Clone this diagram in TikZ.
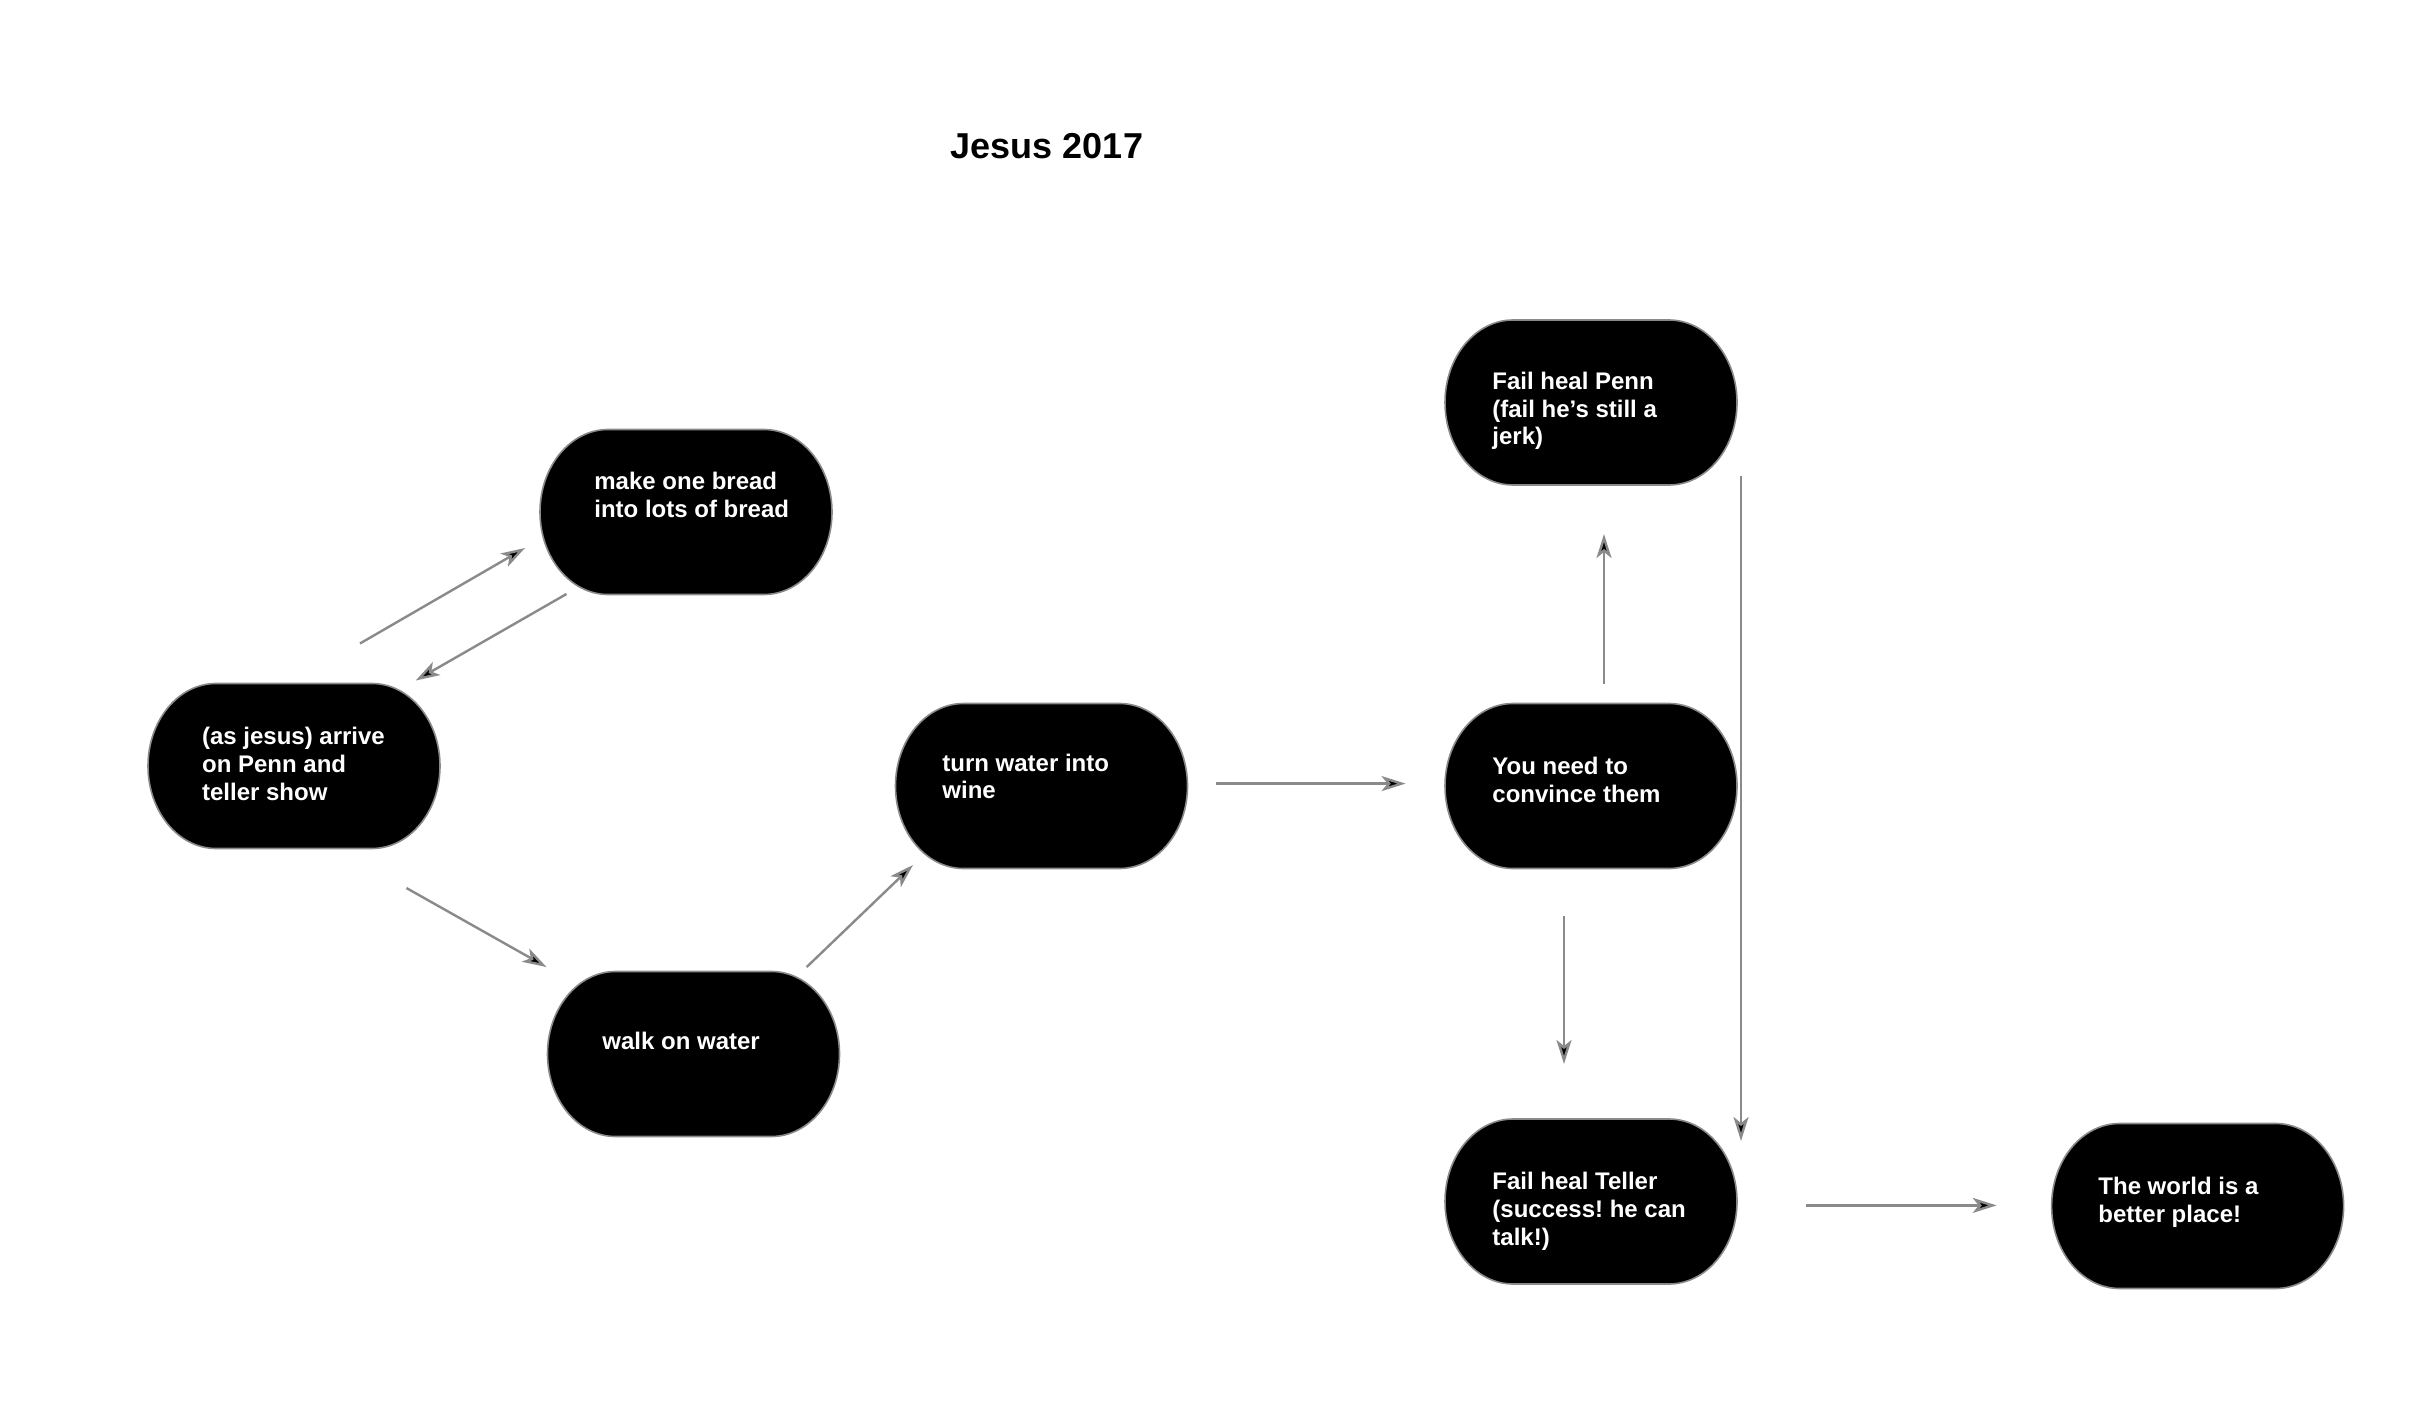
\documentclass[tikz,border=0pt]{standalone}
\usepackage{fontspec}
\setmainfont{Liberation Sans}
\usetikzlibrary{arrows.meta,calc}
\definecolor{edgegray}{HTML}{8A8A8A}
\frenchspacing
\tikzset{
  pill/.style={minimum width=146pt, minimum height=82.5pt, inner sep=0pt, outer sep=0pt},
  pillshape/.style={fill=black, draw=edgegray, line width=0.8pt},
  lbl/.style={anchor=north west, inner sep=0pt, text=white, align=left, font=\fontsize{12}{13.85}\selectfont\bfseries},
  conn/.style={draw=edgegray, line width=1.2pt, -{Stealth[length=12pt,width=7.5pt,inset=3pt,fill=black]}},
}
\begin{document}
\begin{tikzpicture}[x=0.5pt,y=-0.5pt]
\path[use as bounding box, fill=white] (0,0) rectangle (2414,1428);

\node[font=\fontsize{18}{21}\selectfont\bfseries] (title) at (1047,146) {Jesus 2017};

\node[pill] (A) at (294,766) {};
\node[pill] (B) at (686,512) {};
\node[pill] (C) at (693.5,1054) {};
\node[pill] (D) at (1041.5,786) {};
\node[pill] (E) at (1591,786) {};
\node[pill] (F) at (1591,402.5) {};
\node[pill] (G) at (1591,1201.5) {};
\node[pill] (H) at (2197.6,1206) {};

\foreach \n in {A,B,C,D,E,F,G,H}{
  \path[pillshape] ($(\n.north west)+(68,0)$) -- ($(\n.north east)+(-68,0)$)
    arc[start angle=90, end angle=-90, x radius=34pt, y radius=41.25pt]
    -- ($(\n.south west)+(68,0)$)
    arc[start angle=270, end angle=90, x radius=34pt, y radius=41.25pt] -- cycle;
}

\node[lbl] (tA) at (201.7,725) {\strut(as jesus) arrive\\on Penn and\\teller show};
\node[lbl] (tB) at (594,470) {\strut make one bread\\into lots of bread};
\node[lbl] (tC) at (602,1030) {\strut walk on water};
\node[lbl] (tD) at (942,751.5) {\strut turn water into\\wine};
\node[lbl] (tE) at (1492,754.6) {\strut You need to\\convince them};
\node[lbl] (tF) at (1492,369.7) {\strut Fail heal Penn\\(fail he’s still a\\jerk)};
\node[lbl] (tG) at (1492,1170) {\strut Fail heal Teller\\(success! he can\\talk!)};
\node[lbl] (tH) at (2098,1175) {\strut The world is a\\better place!};

\draw[conn] ($(A.center)+(66,-122.5)$) -- ($(B.center)+(-161,36)$);
\draw[conn] ($(B.center)+(-119.5,82)$) -- ($(A.center)+(121.7,-85.5)$);
\draw[conn] ($(A.center)+(112.4,122)$) -- ($(C.center)+(-147,-87)$);
\draw[conn] ($(C.center)+(113.2,-87)$) -- ($(D.center)+(-128.5,79)$);
\draw[conn] ($(D.center)+(174.5,-2.4)$) -- ($(E.center)+(-185.4,-2.4)$);
\draw[conn] ($(E.center)+(13,-102.5)$) -- ($(F.center)+(13,131.5)$);
\draw[conn] ($(E.center)+(-27,130)$) -- ($(G.center)+(-27,-137.5)$);
\draw[conn] ($(F.center)+(150,73.2)$) -- ($(G.center)+(150,-60.5)$);
\draw[conn] ($(G.center)+(215,3.9)$) -- ($(H.center)+(-200.9,-0.6)$);
\end{tikzpicture}
\end{document}
